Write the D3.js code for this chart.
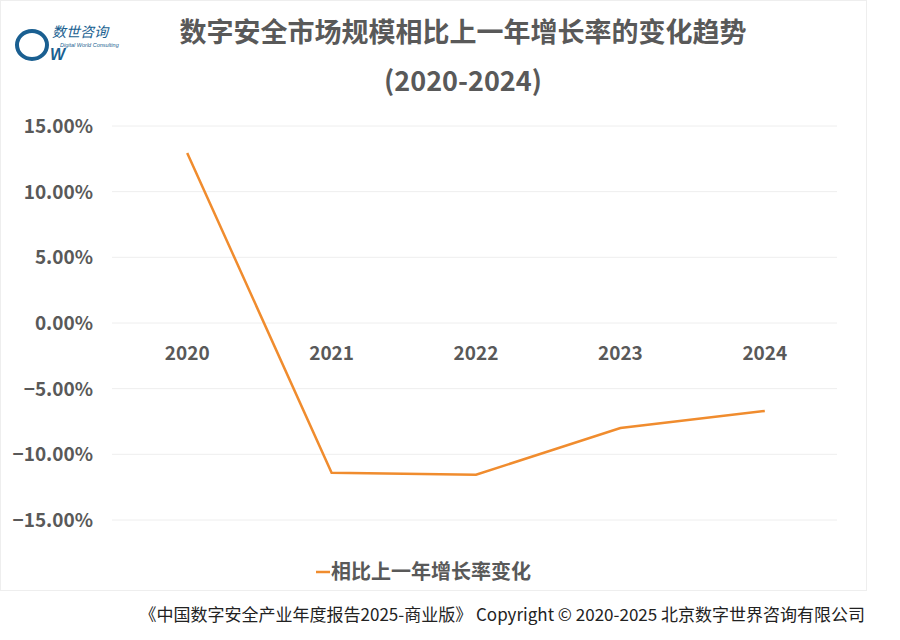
<!DOCTYPE html>
<html><head><meta charset="utf-8">
<script src="https://cdn.jsdelivr.net/npm/d3@7"></script>
<style>body{margin:0;background:#fff}</style>
</head><body>
<svg id="c" width="900" height="640"></svg>
<script>
const years = ["2020", "2021", "2022", "2023", "2024"];
const growth = [12.95, -11.4, -11.55, -8.0, -6.7];
const yTicks = [15, 10, 5, 0, -5, -10, -15];

const svg = d3.select("#c");
const font = "'Noto Sans CJK SC','Noto Sans',sans-serif";
const x = d3.scaleBand().domain(years).range([115, 837]);
const y = d3.scaleLinear().domain([-15, 15]).range([520, 126]);

// chart frame
svg.append("rect").attr("x", 0.5).attr("y", 0.5).attr("width", 866).attr("height", 590)
  .attr("fill", "none").attr("stroke", "#eeeeee");

// logo
const logo = svg.append("g");
logo.append("ellipse").attr("cx", 32).attr("cy", 45).attr("rx", 15).attr("ry", 14)
  .attr("fill", "none").attr("stroke", "#1a5f91").attr("stroke-width", 4);
logo.append("text").attr("x", 50).attr("y", 60).attr("fill", "#1a5f91")
  .attr("font-family", "Liberation Sans").attr("font-style", "italic").attr("font-weight", "bold")
  .attr("font-size", 16).text("W");
logo.append("text").attr("x", 52).attr("y", 37).attr("fill", "#1a5f91")
  .attr("font-family", font).attr("font-style", "italic").attr("font-size", 14).text("数世咨询");
logo.append("text").attr("x", 60).attr("y", 47).attr("fill", "#1a5f91")
  .attr("font-family", "Liberation Sans").attr("font-style", "italic").attr("font-size", 5.5)
  .text("Digital World Consulting");

// title
svg.append("text").attr("x", 463).attr("y", 42).attr("text-anchor", "middle")
  .attr("font-family", font).attr("font-weight", "bold").attr("font-size", 27).attr("fill", "#595959")
  .text("数字安全市场规模相比上一年增长率的变化趋势");
svg.append("text").attr("x", 463).attr("y", 91).attr("text-anchor", "middle")
  .attr("font-family", font).attr("font-weight", "bold").attr("font-size", 27).attr("fill", "#595959")
  .text("(2020-2024)");

// grid + y labels
svg.append("g").selectAll("line").data(yTicks).join("line")
  .attr("x1", 112).attr("x2", 837).attr("y1", d => y(d)).attr("y2", d => y(d))
  .attr("stroke", "#eeeeee").attr("stroke-width", 1);
svg.append("g").selectAll("text").data(yTicks).join("text")
  .attr("x", 93).attr("y", d => y(d) + 7).attr("text-anchor", "end")
  .attr("font-family", font).attr("font-weight", "bold").attr("font-size", 19).attr("fill", "#595959")
  .text(d => d3.format(".2f")(d) + "%");

// x labels at zero line
svg.append("g").selectAll("text").data(years).join("text")
  .attr("x", d => x(d) + x.bandwidth() / 2).attr("y", y(0) + 37).attr("text-anchor", "middle")
  .attr("font-family", font).attr("font-weight", "bold").attr("font-size", 19).attr("fill", "#595959")
  .text(d => d);

// line
const line = d3.line().x((d, i) => x(years[i]) + x.bandwidth() / 2).y(d => y(d));
svg.append("path").datum(growth).attr("d", line)
  .attr("fill", "none").attr("stroke", "#f08c2e").attr("stroke-width", 2.5);

// legend
svg.append("line").attr("x1", 316).attr("x2", 330).attr("y1", 572).attr("y2", 572)
  .attr("stroke", "#f08c2e").attr("stroke-width", 2.5);
svg.append("text").attr("x", 331).attr("y", 579)
  .attr("font-family", font).attr("font-weight", "bold").attr("font-size", 20).attr("fill", "#595959")
  .text("相比上一年增长率变化");

// footer
svg.append("text").attr("x", 865).attr("y", 621).attr("text-anchor", "end")
  .attr("font-family", font).attr("font-size", 17).attr("fill", "#222")
  .text("《中国数字安全产业年度报告2025-商业版》 Copyright © 2020-2025 北京数字世界咨询有限公司");
</script>
</body></html>
